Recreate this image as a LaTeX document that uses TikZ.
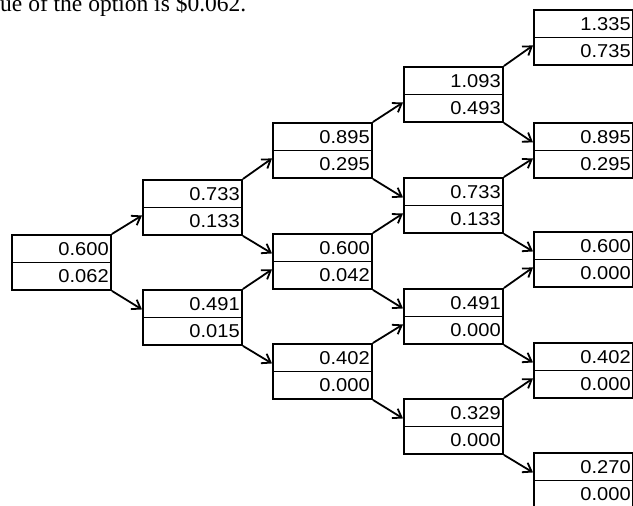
\documentclass[tikz,border=0pt]{standalone}
\usepackage{fontspec}
\setmainfont{Liberation Sans}
\newfontfamily\serifface{Liberation Serif}
\newfontfamily\numface[FakeStretch=1.08]{Liberation Sans}
\usetikzlibrary{arrows.meta}
\newcommand\cellpair[5]{%
  \node[cellbox] (#1) at (#2,#3) {};
  \draw[divider] (#1.west) -- (#1.east);
  \node[val] (#1t) at ([xshift=-3pt,yshift=13.75pt]#1.east) {#4};
  \node[val] (#1b) at ([xshift=-3pt,yshift=-13.75pt]#1.east) {#5};
}
\begin{document}
\begin{tikzpicture}[x=1pt,y=-1pt,
  cellbox/.style={draw, line width=1.9pt, minimum width=99pt, minimum height=55pt, inner sep=0pt, anchor=north west},
  divider/.style={line width=1.9pt},
  val/.style={inner sep=0pt, anchor=east, font=\numface\fontsize{18.6}{20}\selectfont},
  link/.style={line width=1.8pt, -{Straight Barb[length=8pt,width=11pt]}}]
\clip (0,0) rectangle (633,506);
\node[anchor=base west, inner sep=0pt, font=\serifface\fontsize{23.5}{26}\selectfont] (caption) at (0,11) {ue of the option is \$0.062.};
% level 0
\cellpair{a00}{11}{234}{0.600}{0.062}
% level 1
\cellpair{a10}{142}{179}{0.733}{0.133}
\cellpair{a11}{142}{289}{0.491}{0.015}
% level 2
\cellpair{a20}{272}{122}{0.895}{0.295}
\cellpair{a21}{272}{233}{0.600}{0.042}
\cellpair{a22}{272}{343}{0.402}{0.000}
% level 3
\cellpair{a30}{403}{66}{1.093}{0.493}
\cellpair{a31}{403}{177}{0.733}{0.133}
\cellpair{a32}{403}{288}{0.491}{0.000}
\cellpair{a33}{403}{398}{0.329}{0.000}
% level 4
\cellpair{a40}{533}{9}{1.335}{0.735}
\cellpair{a41}{533}{122}{0.895}{0.295}
\cellpair{a42}{533}{231}{0.600}{0.000}
\cellpair{a43}{533}{342}{0.402}{0.000}
\cellpair{a44}{533}{452}{0.270}{0.000}
% connectors
\foreach \k in {0,...,3} {
  \pgfmathtruncatemacro\kk{\k+1}
  \foreach \j in {0,...,\k} {
    \pgfmathtruncatemacro\jj{\j+1}
    \draw[link] (a\k\j.north east) -- ([yshift=-8pt]a\kk\j.west);
    \draw[link] (a\k\j.south east) -- ([yshift=8pt]a\kk\jj.west);
  }
}
\end{tikzpicture}
\end{document}
